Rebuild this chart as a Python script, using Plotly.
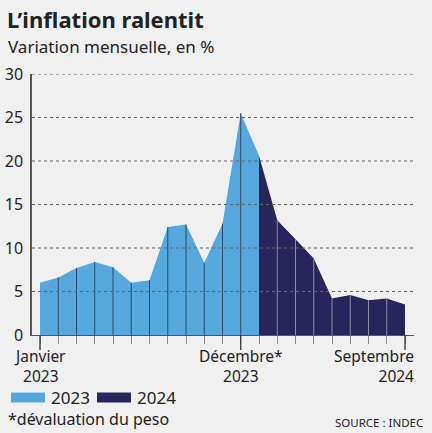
import plotly.graph_objects as go

# ---- data ----
months_2023 = ["Jan 23", "Fév 23", "Mar 23", "Avr 23", "Mai 23", "Juin 23", "Juil 23",
               "Août 23", "Sep 23", "Oct 23", "Nov 23", "Déc 23"]
values_2023 = [6.0, 6.6, 7.7, 8.4, 7.8, 6.0, 6.3, 12.4, 12.7, 8.3, 12.8, 25.5]
months_2024 = ["Jan 24", "Fév 24", "Mar 24", "Avr 24", "Mai 24", "Juin 24", "Juil 24",
               "Août 24", "Sep 24"]
values_2024 = [20.6, 13.2, 11.0, 8.8, 4.2, 4.6, 4.0, 4.2, 3.5]
y_ticks = [0, 5, 10, 15, 20, 25, 30]
label_idx = [0, 11, 20]
label_month = ["Janvier", "Décembre*", "Septembre"]
label_year = ["2023", "2023", "2024"]

all_months = months_2023 + months_2024
all_values = values_2023 + values_2024
xs = list(range(len(all_months)))
n23 = len(values_2023)

BLUE = "#55A7DD"
NAVY = "#28245C"
BG = "#F0F0F0"
FONT = "Noto Sans"

W, H = 432, 433
ML, MR, MT, MB = 32, 18, 74, 98
PW = W - ML - MR
PH = H - MT - MB

def px(p):
    return (p - ML) / PW

def py(p):
    return (H - MB - p) / PH

fig = go.Figure()

# 2023 area (Jan 2023 .. Jan 2024)
x23 = xs[:n23 + 1]
y23 = all_values[:n23 + 1]
fig.add_trace(go.Scatter(x=x23, y=y23, fill="tozeroy", mode="lines",
                         line=dict(width=0, color=BLUE), fillcolor=BLUE,
                         showlegend=False, hoverinfo="skip"))
# 2024 area
x24 = xs[n23:]
y24 = all_values[n23:]
fig.add_trace(go.Scatter(x=x24, y=y24, fill="tozeroy", mode="lines",
                         line=dict(width=0, color=NAVY), fillcolor=NAVY,
                         showlegend=False, hoverinfo="skip"))

# vertical month lines
def vlines(idxs):
    vx, vy = [], []
    for i in idxs:
        vx += [i, i, None]
        vy += [0, all_values[i], None]
    return vx, vy

vx, vy = vlines([i for i in xs[:n23] if i > 0])
fig.add_trace(go.Scatter(x=vx, y=vy, mode="lines", line=dict(color="#2E4A62", width=1),
                         showlegend=False, hoverinfo="skip"))
vx, vy = vlines([i for i in xs[n23 + 1:-1]])
fig.add_trace(go.Scatter(x=vx, y=vy, mode="lines", line=dict(color="#8C8CA6", width=1),
                         showlegend=False, hoverinfo="skip"))

shapes = []
# dotted gridlines above the fills
for t in y_ticks[1:]:
    shapes.append(dict(type="line", xref="paper", yref="y", x0=0, x1=1, y0=t, y1=t,
                       line=dict(color="#666", width=1, dash="dot"), layer="above"))
# long ticks at labelled months
for i in label_idx:
    shapes.append(dict(type="line", xref="x", yref="paper", x0=i, x1=i, y0=0, y1=py(350),
                       line=dict(color="#333", width=1.3)))

# legend swatches
shapes.append(dict(type="rect", xref="paper", yref="paper", x0=px(11), x1=px(45),
                   y0=py(402.5), y1=py(392.5), fillcolor=BLUE, line=dict(width=0)))
shapes.append(dict(type="rect", xref="paper", yref="paper", x0=px(97), x1=px(131),
                   y0=py(402.5), y1=py(392.5), fillcolor=NAVY, line=dict(width=0)))

annotations = []
# x labels (two lines each)
for i, m, yr in zip(label_idx, label_month, label_year):
    last = i == label_idx[-1]
    annotations.append(dict(x=i, y=py(344), xref="x", yref="paper", text=m + "<br>" + yr,
                            showarrow=False, align="right" if last else "center",
                            xanchor="right" if last else "center", yanchor="top",
                            xshift=10 if last else 0, borderpad=0,
                            font=dict(family=FONT, size=15.5, color="#222")))

annotations += [
    dict(x=px(5), y=py(2), xref="paper", yref="paper", text="<b>L’inflation ralentit</b>",
         showarrow=False, xanchor="left", yanchor="top",
         font=dict(family=FONT, size=22, color="#222")),
    dict(x=px(6), y=py(33), xref="paper", yref="paper", text="Variation mensuelle, en %",
         showarrow=False, xanchor="left", yanchor="top",
         font=dict(family=FONT, size=17, color="#222")),
    dict(x=px(49), y=py(397.5), xref="paper", yref="paper", text="2023",
         showarrow=False, xanchor="left", yanchor="middle",
         font=dict(family=FONT, size=17, color="#222")),
    dict(x=px(135), y=py(397.5), xref="paper", yref="paper", text="2024",
         showarrow=False, xanchor="left", yanchor="middle",
         font=dict(family=FONT, size=17, color="#222")),
    dict(x=px(6), y=py(419), xref="paper", yref="paper", text="*dévaluation du peso",
         showarrow=False, xanchor="left", yanchor="middle",
         font=dict(family=FONT, size=16, color="#222")),
    dict(x=px(425), y=py(422), xref="paper", yref="paper", text="SOURCE : INDEC",
         showarrow=False, xanchor="right", yanchor="middle",
         font=dict(family=FONT, size=11.5, color="#222")),
]

x0_px, step_px = 40, (405 - 40) / 20
fig.update_layout(
    width=W, height=H, margin=dict(l=ML, r=MR, t=MT, b=MB, autoexpand=False),
    paper_bgcolor=BG, plot_bgcolor=BG, showlegend=False,
    xaxis=dict(range=[(ML - x0_px) / step_px, (W - MR - x0_px) / step_px],
               showgrid=False, zeroline=False, showline=True, linecolor="#555", linewidth=1.3,
               ticks="outside", ticklen=8, tickwidth=1, tickcolor="#888", automargin=False,
               tickmode="array", tickvals=xs, showticklabels=False, fixedrange=True),
    yaxis=dict(range=[0, 30], tickvals=y_ticks, showgrid=False, zeroline=False,
               showline=True, linecolor="#555", linewidth=1.5, ticks="",
               ticklabelstandoff=4, automargin=False,
               tickfont=dict(family=FONT, size=16, color="#222"), fixedrange=True),
    shapes=shapes, annotations=annotations,
)

fig.write_html("out.html", config={"displayModeBar": False},
               post_script="document.body.style.margin='0';document.body.style.background='#F0F0F0';")
